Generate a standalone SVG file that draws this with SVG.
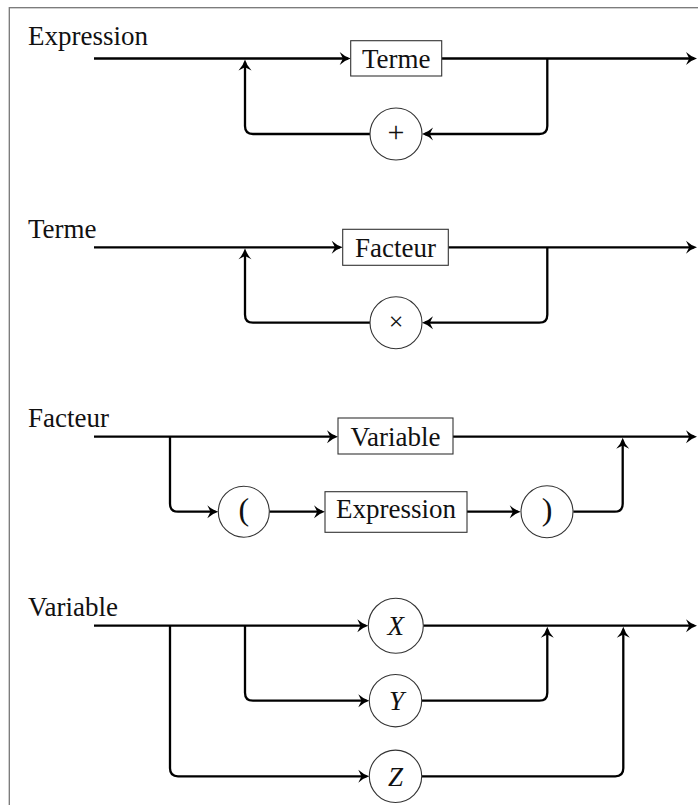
<svg xmlns="http://www.w3.org/2000/svg" width="698" height="805" viewBox="0 0 698 805">
<style>
.lbl{font-family:'Liberation Serif','DejaVu Serif',serif;font-size:27px;fill:#111}
.nt{font-family:'Liberation Serif','DejaVu Serif',serif;font-size:27px;fill:#111;text-anchor:middle}
.it{font-style:italic}
.box{fill:#fff;stroke:#333;stroke-width:1.1}
.circ{fill:#fff;stroke:#333;stroke-width:1.1}
.wire{fill:none;stroke:#000;stroke-width:2.3;marker-end:url(#ah)}
</style>
<defs>
<marker id="ah" markerUnits="userSpaceOnUse" viewBox="-2 -8 16 16" refX="8" refY="0" markerWidth="16" markerHeight="16" orient="auto">
<path d="M0,-6.5 Q5,-1.8 11,0 Q5,1.8 0,6.5 L3.2,0 Z" fill="#000"/>
</marker>
</defs>
<rect x="9.3" y="7.7" width="720" height="830" fill="none" stroke="#777" stroke-width="1.3"/>
<g id="labels">
<text class="lbl" x="28" y="45">Expression</text>
<text class="lbl" x="28" y="238.3">Terme</text>
<text class="lbl" x="28" y="426.7">Facteur</text>
<text class="lbl" x="28" y="616">Variable</text>
</g>
<g id="connectors">
<path class="wire" d="M94,58.5 H347.7"/>
<path class="wire" d="M441.7,58.5 H694"/>
<path class="wire" d="M547.3,58.5 V126 Q547.3,134 539.3,134 H425"/>
<path class="wire" d="M370,134 H253 Q245,134 245,126 V62.5"/>
<path class="wire" d="M94,247.3 H339.7"/>
<path class="wire" d="M448.3,247.3 H694"/>
<path class="wire" d="M547.3,247.3 V314.7 Q547.3,322.7 539.3,322.7 H425"/>
<path class="wire" d="M370,322.7 H253 Q245,322.7 245,314.7 V251.3"/>
<path class="wire" d="M94,436.7 H335"/>
<path class="wire" d="M453,436.7 H694"/>
<path class="wire" d="M170,436.7 V503.7 Q170,511.7 178,511.7 H215.3"/>
<path class="wire" d="M269.3,511.7 H322"/>
<path class="wire" d="M467,511.7 H517.7"/>
<path class="wire" d="M573.3,511.7 H614.7 Q622.7,511.7 622.7,503.7 V440.7"/>
<path class="wire" d="M94,625.7 H365.3"/>
<path class="wire" d="M423.3,625.7 H694"/>
<path class="wire" d="M245,625.7 V692.7 Q245,700.7 253,700.7 H366.3"/>
<path class="wire" d="M170,625.7 V768.3 Q170,776.3 178,776.3 H366.3"/>
<path class="wire" d="M421.7,700.7 H539.3 Q547.3,700.7 547.3,692.7 V629.7"/>
<path class="wire" d="M421.7,776.3 H615.3 Q623.3,776.3 623.3,768.3 V629.7"/>
</g>
<g id="node-terme1"><rect class="box" x="350.7" y="40.7" width="91" height="35.3"/><text class="nt" x="396.2" y="68">Terme</text></g>
<g id="node-plus"><circle class="circ" cx="396" cy="134" r="26"/><text class="nt" x="396" y="142" style="font-size:30px">+</text></g>
<g id="node-facteur1"><rect class="box" x="342.7" y="229.3" width="105.6" height="36"/><text class="nt" x="395.5" y="257.3">Facteur</text></g>
<g id="node-times"><circle class="circ" cx="396" cy="322.7" r="26"/><text class="nt" x="396" y="329.5" style="font-size:26px">×</text></g>
<g id="node-variable1"><rect class="box" x="338" y="418" width="115" height="36"/><text class="nt" x="395.5" y="446">Variable</text></g>
<g id="node-lparen"><circle class="circ" cx="243.8" cy="511.7" r="25.5"/><text class="nt" x="243.8" y="520" style="font-size:32px">(</text></g>
<g id="node-expression1"><rect class="box" x="325" y="491.7" width="142" height="40.6"/><text class="nt" x="396" y="518.3">Expression</text></g>
<g id="node-rparen"><circle class="circ" cx="547" cy="511.7" r="26"/><text class="nt" x="547" y="520" style="font-size:32px">)</text></g>
<g id="node-x"><circle class="circ" cx="395.8" cy="625.7" r="27.5"/><text class="nt it" x="395.8" y="635">X</text></g>
<g id="node-y"><circle class="circ" cx="395.5" cy="700.7" r="26.2"/><text class="nt it" x="396.5" y="710">Y</text></g>
<g id="node-z"><circle class="circ" cx="395.5" cy="776.3" r="26.2"/><text class="nt it" x="395.5" y="785.6">Z</text></g>
</svg>
